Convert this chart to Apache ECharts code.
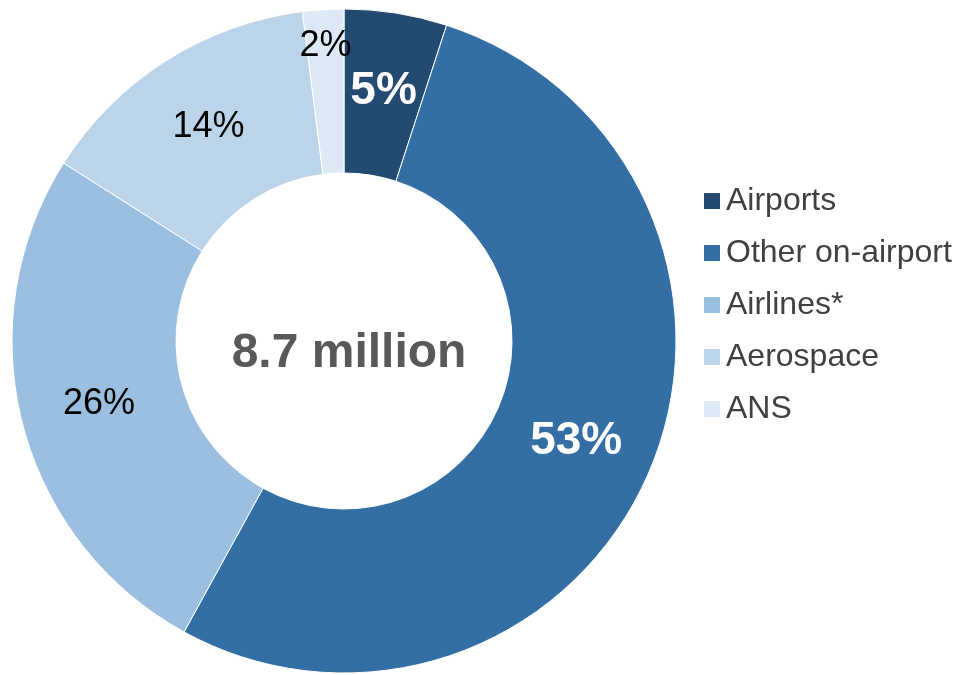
<!DOCTYPE html>
<html>
<head>
<meta charset="utf-8">
<script src="https://cdn.jsdelivr.net/npm/echarts@6/dist/echarts.min.js"></script>
<style>
  html, body { margin: 0; padding: 0; background: #ffffff; }
  #chart { width: 958px; height: 675px; }
</style>
</head>
<body>
<div id="chart"></div>
<script>
// Employment share by sector (percent of total)
const categories = ['Airports', 'Other on-airport', 'Airlines*', 'Aerospace', 'ANS'];
const shares = [5, 53, 26, 14, 2];
const colors = ['#234a70', '#336fa4', '#9bbfe0', '#bcd4ea', '#dde9f5'];
const totalLabel = '8.7 million';

// Label styling per slice: dark slices get large white bold text
const labelStyles = [
  { color: '#ffffff', fontSize: 46, fontWeight: 'bold' },
  { color: '#ffffff', fontSize: 46, fontWeight: 'bold' },
  { color: '#000000', fontSize: 36, fontWeight: 'normal' },
  { color: '#000000', fontSize: 36, fontWeight: 'normal' },
  { color: '#000000', fontSize: 36, fontWeight: 'normal' }
];
// The smallest slice shows its label nearer the outer rim
const outerLabelOnly = [false, false, false, false, true];

const font = '"Liberation Sans", Arial, sans-serif';
const center = [344, 341];

const mainData = categories.map((name, i) => ({
  name: name,
  value: shares[i],
  itemStyle: { color: colors[i] },
  label: outerLabelOnly[i] ? { show: false } : Object.assign({ show: true }, labelStyles[i])
}));

const rimData = categories.map((name, i) => ({
  name: name,
  value: shares[i],
  itemStyle: { color: 'rgba(0,0,0,0)', borderWidth: 0 },
  label: outerLabelOnly[i] ? Object.assign({ show: true }, labelStyles[i]) : { show: false }
}));

const chart = echarts.init(document.getElementById('chart'), null, { renderer: 'canvas' });
chart.setOption({
  animation: false,
  backgroundColor: '#ffffff',
  textStyle: { fontFamily: font },
  title: {
    text: totalLabel,
    left: 349,
    top: 354,
    padding: 0,
    textAlign: 'center',
    textVerticalAlign: 'middle',
    textStyle: { fontFamily: font, fontSize: 48, fontWeight: 'bold', color: '#595959' }
  },
  legend: {
    orient: 'vertical',
    left: 697,
    top: 180,
    icon: 'rect',
    itemWidth: 18,
    itemHeight: 18,
    itemGap: 20,
    selectedMode: false,
    data: categories,
    textStyle: { fontFamily: font, fontSize: 32, color: '#404040', lineHeight: 32 }
  },
  series: [
    {
      type: 'pie',
      center: center,
      radius: [168, 332],
      startAngle: 90,
      clockwise: true,
      avoidLabelOverlap: false,
      silent: true,
      itemStyle: { borderColor: '#ffffff', borderWidth: 1 },
      label: {
        position: 'inside',
        formatter: '{c}%',
        fontFamily: font
      },
      labelLine: { show: false },
      data: mainData
    },
    {
      type: 'pie',
      center: center,
      radius: [254, 332],
      startAngle: 90,
      clockwise: true,
      avoidLabelOverlap: false,
      silent: true,
      label: {
        position: 'inside',
        formatter: '{c}%',
        fontFamily: font
      },
      labelLine: { show: false },
      data: rimData
    }
  ]
});
</script>
</body>
</html>
